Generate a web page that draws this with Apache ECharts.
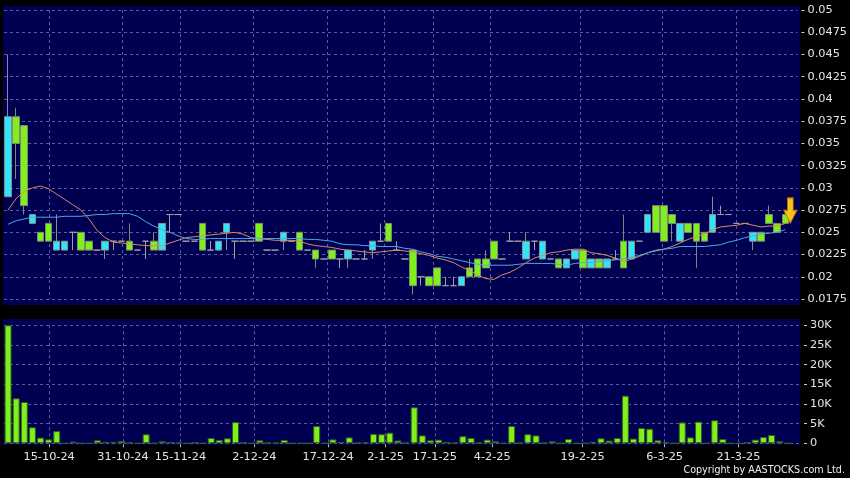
<!DOCTYPE html>
<html><head><meta charset="utf-8">
<script src="https://cdn.jsdelivr.net/npm/echarts@6/dist/echarts.min.js"></script>
<style>html,body{margin:0;padding:0;background:#000;}#c{width:850px;height:478px;}</style>
</head><body><div id="c"></div>
<script>
// ---- data ----
const opens = [
0.029,0.038,0.037,0.026,0.025,0.026,0.023,0.023,0.025,0.025,
0.024,0.023,0.023,0.024,0.024,0.024,0.023,0.024,0.024,0.023,
0.027,0.027,0.024,0.024,0.026,0.023,0.023,0.025,0.024,0.024,
0.024,0.026,0.023,0.023,0.024,0.024,0.025,0.023,0.023,0.022,
0.023,0.022,0.022,0.022,0.022,0.023,0.024,0.026,0.023,0.022,
0.023,0.020,0.020,0.021,0.019,0.019,0.019,0.021,0.022,0.022,
0.024,0.022,0.024,0.024,0.022,0.024,0.022,0.022,0.022,0.021,
0.022,0.023,0.021,0.022,0.021,0.022,0.024,0.022,0.024,0.025,
0.028,0.028,0.027,0.024,0.026,0.026,0.025,0.025,0.027,0.027,
0.026,0.026,0.024,0.025,0.027,0.026,0.027];
const closes = [
0.038,0.035,0.028,0.027,0.024,0.024,0.024,0.024,0.025,0.023,
0.023,0.023,0.024,0.024,0.024,0.023,0.023,0.024,0.023,0.026,
0.027,0.027,0.024,0.024,0.023,0.023,0.024,0.026,0.024,0.024,
0.024,0.024,0.023,0.023,0.025,0.024,0.023,0.023,0.022,0.022,
0.022,0.022,0.023,0.022,0.022,0.024,0.024,0.024,0.023,0.022,
0.019,0.020,0.019,0.019,0.019,0.019,0.020,0.020,0.020,0.021,
0.022,0.022,0.024,0.024,0.024,0.024,0.024,0.022,0.021,0.022,
0.023,0.021,0.022,0.021,0.022,0.022,0.021,0.024,0.024,0.027,
0.025,0.024,0.026,0.026,0.025,0.024,0.024,0.027,0.027,0.027,
0.026,0.026,0.025,0.024,0.026,0.025,0.026];
const lows = [
0.029,0.031,0.027,0.026,0.024,0.024,0.023,0.023,0.023,0.023,
0.023,0.023,0.022,0.023,0.024,0.023,0.023,0.022,0.023,0.023,
0.025,0.027,0.024,0.024,0.023,0.023,0.023,0.023,0.022,0.024,
0.024,0.024,0.023,0.023,0.023,0.024,0.023,0.023,0.021,0.022,
0.022,0.021,0.021,0.022,0.022,0.022,0.024,0.024,0.023,0.022,
0.018,0.019,0.019,0.019,0.019,0.019,0.019,0.020,0.020,0.021,
0.022,0.022,0.024,0.024,0.022,0.023,0.022,0.022,0.021,0.021,
0.022,0.021,0.021,0.021,0.021,0.022,0.021,0.022,0.024,0.025,
0.025,0.024,0.024,0.024,0.025,0.021,0.024,0.025,0.027,0.027,
0.026,0.026,0.023,0.024,0.026,0.025,0.026];
const highs = [
0.045,0.039,0.037,0.027,0.025,0.026,0.027,0.024,0.025,0.025,
0.024,0.023,0.024,0.024,0.024,0.026,0.023,0.024,0.025,0.026,
0.027,0.027,0.024,0.024,0.026,0.024,0.024,0.026,0.024,0.024,
0.024,0.026,0.023,0.023,0.025,0.024,0.025,0.023,0.023,0.022,
0.023,0.022,0.023,0.022,0.023,0.024,0.026,0.026,0.024,0.022,
0.023,0.020,0.020,0.021,0.020,0.020,0.020,0.022,0.022,0.023,
0.024,0.022,0.025,0.024,0.025,0.024,0.024,0.022,0.022,0.022,
0.023,0.023,0.022,0.022,0.022,0.023,0.027,0.024,0.024,0.027,
0.028,0.028,0.027,0.026,0.026,0.026,0.025,0.029,0.028,0.027,
0.026,0.026,0.025,0.025,0.028,0.026,0.027];
const volumes = [
30000,11440,10500,4070,1440,1000,3100,0,420,0,
0,760,340,340,600,250,0,2300,0,500,
340,170,0,340,0,1360,850,1270,5400,250,
0,760,170,100,850,0,0,0,4400,0,
1000,340,1500,170,250,2400,2300,2700,700,170,
9150,2000,760,930,340,170,1800,1360,170,930,
500,0,4400,100,2300,2000,170,500,0,1100,
0,0,340,1270,680,1360,12100,1200,3900,3700,
760,340,0,5300,1500,5500,0,5850,1100,0,
0,250,930,1600,2100,500,0];
const maShort = [
0.0275,0.0288,0.0296,0.0300,0.0302,0.0299,0.0293,0.0287,0.0281,0.0275,
0.0265,0.0252,0.0244,0.0239,0.0238,0.0237,0.0236,0.0235,0.0235,0.0235,
0.0238,0.0241,0.0244,0.0245,0.0246,0.0247,0.0248,0.0249,0.0250,0.0248,
0.0244,0.0243,0.0242,0.0241,0.0241,0.0241,0.0240,0.0237,0.0235,0.0234,
0.0233,0.0231,0.0230,0.0229,0.0228,0.0227,0.0228,0.0229,0.0230,0.0229,
0.0228,0.0226,0.0224,0.0221,0.0219,0.0216,0.0211,0.0207,0.0202,0.0198,
0.0197,0.0202,0.0205,0.0210,0.0216,0.0221,0.0224,0.0227,0.0228,0.0230,
0.0231,0.0231,0.0227,0.0226,0.0224,0.0221,0.0217,0.0220,0.0223,0.0227,
0.0229,0.0231,0.0234,0.0238,0.0242,0.0245,0.0248,0.0253,0.0256,0.0257,
0.0258,0.0260,0.0258,0.0256,0.0257,0.0257,0.0260];
const maLong = [
0.0259,0.0263,0.0265,0.0267,0.0267,0.0267,0.0267,0.0268,0.0268,0.0268,
0.0269,0.0270,0.0270,0.0271,0.0271,0.0271,0.0268,0.0262,0.0257,0.0253,
0.0250,0.0246,0.0243,0.0242,0.0242,0.0243,0.0243,0.0243,0.0243,0.0243,
0.0243,0.0243,0.0243,0.0243,0.0243,0.0243,0.0243,0.0242,0.0242,0.0241,
0.0240,0.0237,0.0236,0.0236,0.0235,0.0235,0.0234,0.0234,0.0234,0.0232,
0.0231,0.0228,0.0226,0.0223,0.0222,0.0220,0.0218,0.0216,0.0214,0.0213,
0.0213,0.0213,0.0213,0.0214,0.0215,0.0215,0.0215,0.0215,0.0214,0.0213,
0.0215,0.0216,0.0216,0.0217,0.0218,0.0219,0.0220,0.0222,0.0224,0.0227,
0.0230,0.0231,0.0232,0.0234,0.0234,0.0234,0.0234,0.0235,0.0236,0.0239,
0.0241,0.0244,0.0246,0.0248,0.0249,0.0250,0.0253];
const tickIndex = [5,14,21,30,39,46,52,59,70,80,89];
const tickText = ['15-10-24','31-10-24','15-11-24','2-12-24','17-12-24','2-1-25','17-1-25','4-2-25','19-2-25','6-3-25','21-3-25'];
const priceMin = 0.0175, priceMax = 0.05, priceStep = 0.0025;
const volMin = 0, volMax = 30000, volStep = 5000;
const markerIndex = 96, markerPrice = 0.02745;

// ---- build ----
const slotCount = 98;       // candle slots
const labelSlotCount = 97;  // date-label slots
const slots = Array.from({length: slotCount}, (_, i) => String(i));
const labelSlots = Array.from({length: labelSlotCount}, () => '');
tickIndex.forEach((k, j) => { labelSlots[k] = tickText[j]; });
const isLabel = (i, v) => v !== '';
const candles = opens.map((o, i) => [o, closes[i], lows[i], highs[i]]);

const GREEN = '#7ff01e', CYAN = '#2ee6f7';
const gridLine = {show: true, lineStyle: {color: '#5c5c92', type: [3, 3], width: 1}};
const textFont = {color: '#e6e6e6', fontFamily: 'DejaVu Sans', fontSize: 11.3};

const chart = echarts.init(document.getElementById('c'), null, {renderer: 'canvas'});
chart.setOption({
  backgroundColor: '#000000',
  animation: false,
  graphic: [
    {type: 'rect', z: -10, shape: {x: 3, y: 6, width: 797, height: 299}, style: {fill: '#000052'}},
    {type: 'rect', z: -10, shape: {x: 3, y: 319, width: 797, height: 126}, style: {fill: '#000052'}},
    {type: 'text', right: 5, top: 465, style: {text: 'Copyright by AASTOCKS.com Ltd.', fill: '#f0f0f0', font: '9.6px "DejaVu Sans"'}}
  ],
  grid: [
    {left: 4, width: 796, top: 10, height: 289},
    {left: 4, width: 796, top: 325.3, height: 118}
  ],
  xAxis: [
    {type: 'category', gridIndex: 0, data: slots, show: false},
    {type: 'category', gridIndex: 1, data: slots, show: false},
    {type: 'category', gridIndex: 0, data: labelSlots, axisLine: {show: false}, axisTick: {show: false}, axisLabel: {show: false},
      splitLine: Object.assign({interval: isLabel, alignWithLabel: true}, gridLine)},
    {type: 'category', gridIndex: 1, data: labelSlots, position: 'bottom', offset: 1,
      axisLine: {show: false},
      axisTick: {show: true, interval: isLabel, alignWithLabel: true, length: 3, lineStyle: {color: '#bbbbbb'}},
      axisLabel: {interval: isLabel, margin: 7, fontSize: 11.3, color: '#e6e6e6', fontFamily: 'DejaVu Sans'},
      splitLine: Object.assign({interval: isLabel, alignWithLabel: true}, gridLine)}
  ],
  yAxis: [
    {type: 'value', gridIndex: 0, position: 'right', offset: 4, min: priceMin, max: priceMax, interval: priceStep,
      axisLine: {show: false}, axisTick: {show: true, length: 3, lineStyle: {color: '#cccccc'}},
      axisLabel: Object.assign({margin: 6, formatter: v => String(parseFloat(v.toFixed(4)))}, textFont),
      splitLine: gridLine},
    {type: 'value', gridIndex: 1, position: 'right', offset: 4, min: volMin, max: volMax, interval: volStep,
      axisLine: {show: false}, axisTick: {show: true, length: 3, lineStyle: {color: '#cccccc'}},
      axisLabel: Object.assign({margin: 6, formatter: v => v === 0 ? '0' : (v / 1000) + 'K'}, textFont),
      splitLine: gridLine}
  ],
  series: [
    {type: 'candlestick', xAxisIndex: 0, yAxisIndex: 0, data: candles, barWidth: 7,
      itemStyle: {color: CYAN, color0: GREEN, borderColor: '#8c8c8c', borderColor0: '#7c8c6c', borderColorDoji: '#a0a0a0', borderWidth: 1},
      markPoint: {silent: true, label: {show: false},
        data: [{coord: [markerIndex, markerPrice], symbol: 'path://M4,0 L10,0 L10,12 L14,12 L7,24 L0,12 L4,12 Z',
          symbolSize: [13, 25], symbolOffset: [5, 0],
          itemStyle: {color: '#f7c51a', borderColor: '#d07a00', borderWidth: 1}}]}},
    {type: 'line', xAxisIndex: 0, yAxisIndex: 0, data: maShort, showSymbol: false, lineStyle: {color: '#e0875a', width: 1}, z: 3},
    {type: 'line', xAxisIndex: 0, yAxisIndex: 0, data: maLong, showSymbol: false, lineStyle: {color: '#4aa8e8', width: 1}, z: 3},
    {type: 'bar', xAxisIndex: 1, yAxisIndex: 1, data: volumes, barWidth: 7,
      itemStyle: {color: GREEN, borderColor: '#2f6014', borderWidth: 1}}
  ]
});
</script></body></html>
